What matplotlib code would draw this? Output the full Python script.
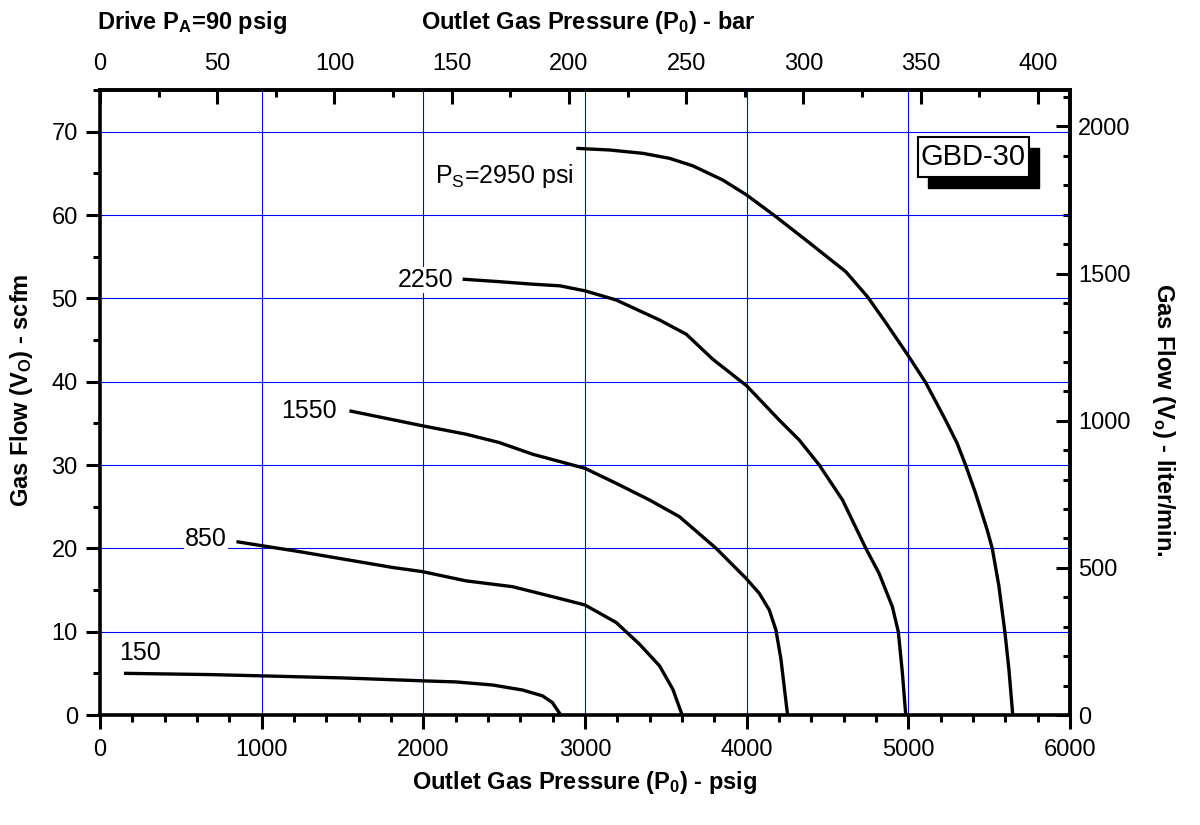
import matplotlib
matplotlib.use("Agg")
import matplotlib.pyplot as plt
from matplotlib.ticker import FixedLocator
from matplotlib.patches import Rectangle
import matplotlib.transforms as mtransforms

plt.rcParams['font.family'] = ['Liberation Sans', 'DejaVu Sans']
plt.rcParams['mathtext.fontset'] = 'custom'
plt.rcParams['mathtext.rm'] = 'Liberation Sans'
plt.rcParams['mathtext.bf'] = 'Liberation Sans:bold'
plt.rcParams['mathtext.it'] = 'Liberation Sans:italic'

# ---- data ----
supply_labels = ["150", "850", "1550", "2250"]

ps150_psi = [148, 679, 996, 1500, 1996, 2202, 2428, 2613, 2737, 2798, 2850]
ps150_flow = [5.0, 4.85, 4.7, 4.45, 4.1, 3.97, 3.6, 3.0, 2.3, 1.5, 0.0]

ps850_psi = [844, 1235, 1811, 1996, 2263, 2551, 2819, 3000, 3193, 3337, 3461, 3543, 3601]
ps850_flow = [20.8, 19.6, 17.7, 17.2, 16.1, 15.4, 14.1, 13.2, 11.1, 8.5, 5.9, 3.1, 0.0]

ps1550_psi = [1543, 1996, 2263, 2469, 2675, 3000, 3193, 3399, 3584, 3811, 3996, 4078, 4140, 4181, 4212, 4253]
ps1550_flow = [36.5, 34.7, 33.7, 32.7, 31.3, 29.6, 27.8, 25.8, 23.8, 20.0, 16.4, 14.6, 12.6, 10.2, 6.7, 0.0]

ps2250_psi = [2243, 2469, 2675, 2845, 3000, 3193, 3461, 3626, 3790, 4000, 4206, 4325, 4449, 4593,
              4737, 4819, 4901, 4938, 4963, 4984]
ps2250_flow = [52.3, 52.0, 51.7, 51.5, 50.9, 49.8, 47.4, 45.7, 42.7, 39.5, 35.3, 33.0, 30.0, 25.8,
               20.0, 17.0, 13.0, 10.0, 5.1, 0.0]

ps2950_psi = [2946, 3152, 3358, 3523, 3667, 3852, 4000, 4181, 4366, 4613, 4747, 4860, 5000, 5107,
              5230, 5302, 5354, 5416, 5488, 5519, 5560, 5597, 5622, 5646]
ps2950_flow = [68.0, 67.8, 67.4, 66.8, 65.9, 64.2, 62.4, 59.8, 57.0, 53.2, 50.2, 47.1, 43.1, 39.9,
               35.4, 32.6, 30.0, 26.6, 22.2, 20.0, 15.5, 10.0, 5.5, 0.0]

# tick values
psi_ticks = [0, 1000, 2000, 3000, 4000, 5000, 6000]
psi_minor = [v for v in range(0, 6001, 200)]
scfm_ticks = [0, 10, 20, 30, 40, 50, 60, 70]
scfm_minor = [v for v in range(0, 76, 5)]
bar_ticks = [0, 50, 100, 150, 200, 250, 300, 350, 400]
bar_minor = [v for v in range(0, 401, 25)]
lpm_ticks = [0, 500, 1000, 1500, 2000]
lpm_minor = [v for v in range(0, 2101, 100)]

# label anchor positions (psi, scfm)
label_x = [247, 656, 1290, 2016]
label_y = [7.4, 21.1, 36.5, 52.2]
title_label = r'P$_{\rm S}$=2950 psi'
title_x, title_y = 2072, 63.8
model_name = "GBD-30"
model_x, model_y = 5402, 66.9

PSI_PER_BAR = 14.5038
LPM_PER_SCFM = 28.3168

fig = plt.figure(figsize=(12, 8.25), dpi=100)
ax = fig.add_axes([100/1200, 1-715/825, 970/1200, 625/825])

ax.set_xlim(0, 6000)
ax.set_ylim(0, 75)

ax.xaxis.set_major_locator(FixedLocator(psi_ticks))
ax.xaxis.set_minor_locator(FixedLocator(psi_minor))
ax.yaxis.set_major_locator(FixedLocator(scfm_ticks))
ax.yaxis.set_minor_locator(FixedLocator(scfm_minor))

ax.grid(True, which='major', color='#0000ff', lw=0.8, zorder=0)
ax.set_axisbelow(True)

for xs, ys in [(ps150_psi, ps150_flow), (ps850_psi, ps850_flow), (ps1550_psi, ps1550_flow),
               (ps2250_psi, ps2250_flow), (ps2950_psi, ps2950_flow)]:
    ax.plot(xs, ys, color='black', lw=2.4, zorder=3, solid_capstyle='butt', solid_joinstyle='round')

for s, x, y in zip(supply_labels, label_x, label_y):
    ax.text(x, y, s, fontsize=18, ha='center', va='center', zorder=4,
            bbox=dict(boxstyle='square,pad=0.05', fc='white', ec='none'))
ax.text(title_x, title_y, title_label, fontsize=18, ha='left', va='baseline', zorder=4)

for sp in ax.spines.values():
    sp.set_linewidth(2.6)

ax.tick_params(axis='both', which='major', direction='out', length=10, width=2.2, labelsize=17)
ax.tick_params(axis='both', which='minor', direction='out', length=5, width=2.2)
ax.tick_params(axis='x', which='major', pad=7)
ax.tick_params(axis='y', which='major', pad=6)

secx = ax.secondary_xaxis('top', functions=(lambda p: p / PSI_PER_BAR, lambda b: b * PSI_PER_BAR))
secx.xaxis.set_major_locator(FixedLocator(bar_ticks))
secx.xaxis.set_minor_locator(FixedLocator(bar_minor))
secx.tick_params(axis='x', which='major', direction='in', length=10, width=2.2, labelsize=17, pad=11)
secx.tick_params(axis='x', which='minor', direction='in', length=5, width=2.2)
secx.spines['top'].set_linewidth(2.6)

secy = ax.secondary_yaxis('right', functions=(lambda s: s * LPM_PER_SCFM, lambda l: l / LPM_PER_SCFM))
secy.yaxis.set_major_locator(FixedLocator(lpm_ticks))
secy.yaxis.set_minor_locator(FixedLocator(lpm_minor))
secy.tick_params(axis='y', which='major', direction='in', length=10, width=2.2, labelsize=17, pad=6)
secy.tick_params(axis='y', which='minor', direction='in', length=5, width=2.2)
secy.spines['right'].set_linewidth(2.6)

ax.set_xlabel(r'Outlet Gas Pressure (P$_\mathbf{0}$) - psig', fontsize=17, fontweight='bold', labelpad=6)
fig.text(22/1200, 1-390/825, r'Gas Flow (V$_\mathbf{O}$) - scfm', rotation=90, fontsize=17,
         fontweight='bold', ha='center', va='center')
fig.text(1163/1200, 1-420/825, r'Gas Flow (V$_\mathbf{o}$) - liter/min.', rotation=-90, fontsize=17,
         fontweight='bold', ha='center', va='center')
fig.text(97/1200, 1-22/825, r'Drive P$_\mathbf{A}$=90 psig', fontsize=17, fontweight='bold',
         ha='left', va='center')
fig.text(588/1200, 1-22/825, r'Outlet Gas Pressure (P$_\mathbf{0}$) - bar', fontsize=17,
         fontweight='bold', ha='center', va='center')

# model box with drop shadow
mt = ax.text(model_x, model_y, model_name, fontsize=21, ha='center', va='center', color='black', zorder=7)
fig.canvas.draw()
bb = mt.get_window_extent(fig.canvas.get_renderer())
padx, pady = 3, 6
bx0, by0 = bb.x0 - padx, bb.y0 - pady
bw, bh = bb.width + 2 * padx, bb.height + 2 * pady
ident = mtransforms.IdentityTransform()
ax.add_patch(Rectangle((bx0 + 10, by0 - 11), bw, bh, transform=ident, fc='black', ec='black',
                       lw=1, zorder=5, clip_on=False))
ax.add_patch(Rectangle((bx0, by0), bw, bh, transform=ident, fc='white', ec='black',
                       lw=1.5, zorder=6, clip_on=False))

fig.savefig('out.png', dpi=100)
